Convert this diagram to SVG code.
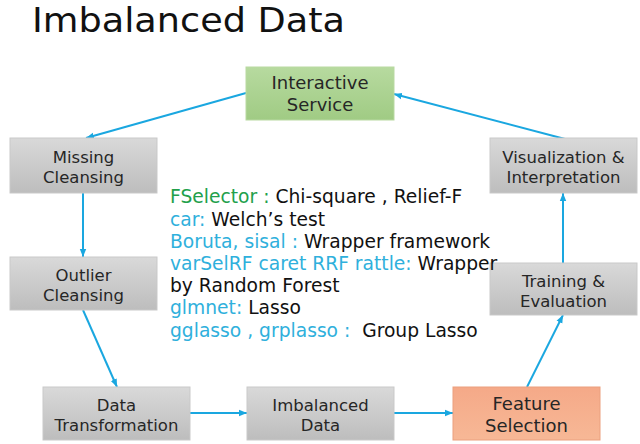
<svg xmlns="http://www.w3.org/2000/svg" width="640" height="444" viewBox="0 0 640 444">
<style>
text{font-family:"DejaVu Sans","Verdana",sans-serif;}
.title{font-size:34px;fill:#111;}
.nt{font-size:16.5px;fill:#262626;text-anchor:middle;}
.nb{font-size:18px;fill:#262626;text-anchor:middle;}
.gray{fill:url(#gGray);stroke:#c9c9c9;stroke-width:1;}
.green{fill:url(#gGreen);stroke:#b9d9a2;stroke-width:1;}
.orange{fill:url(#gOrange);stroke:#eba07e;stroke-width:1;}
.conn line{stroke:#1aa7e0;stroke-width:2;fill:none;marker-end:url(#ah);}
.lst{font-size:18.7px;fill:#111;white-space:pre;}
.c{fill:#2fb0dc;}
.g{fill:#22a04b;}
</style>
<defs>
<linearGradient id="gGray" x1="0" y1="0" x2="0" y2="1">
<stop offset="0" stop-color="#d9d9d9"/><stop offset="1" stop-color="#bdbdbd"/>
</linearGradient>
<linearGradient id="gGreen" x1="0" y1="0" x2="0" y2="1">
<stop offset="0" stop-color="#b7da9f"/><stop offset="1" stop-color="#a0cb84"/>
</linearGradient>
<linearGradient id="gOrange" x1="0" y1="0" x2="0" y2="1">
<stop offset="0" stop-color="#f5a988"/><stop offset="1" stop-color="#f7b896"/>
</linearGradient>
<marker id="ah" markerUnits="userSpaceOnUse" markerWidth="8" markerHeight="8" viewBox="0 0 8 8" refX="8" refY="4" orient="auto">
<path d="M0,0.8 L8,4 L0,7.2 Z" fill="#1aa7e0"/>
</marker>
</defs>

<text class="title" x="32" y="32" textLength="313" lengthAdjust="spacingAndGlyphs">Imbalanced Data</text>

<g class="conn">
<line x1="246" y1="93" x2="86" y2="138"/>
<line x1="83" y1="193" x2="83" y2="257"/>
<line x1="83" y1="310" x2="117" y2="387"/>
<line x1="190" y1="413" x2="247" y2="413"/>
<line x1="394" y1="413" x2="453" y2="413"/>
<line x1="527" y1="387" x2="563" y2="315"/>
<line x1="563" y1="263" x2="563" y2="193"/>
<line x1="565" y1="139" x2="394" y2="94"/>
</g>

<g id="interactive-service">
<rect class="green" x="246" y="67" width="148" height="53"/>
<text class="nb" x="320" y="89">Interactive</text>
<text class="nb" x="320" y="111">Service</text>
</g>
<g id="missing-cleansing">
<rect class="gray" x="10" y="138" width="147" height="55"/>
<text class="nt" x="83.5" y="163">Missing</text>
<text class="nt" x="83.5" y="183">Cleansing</text>
</g>
<g id="visualization">
<rect class="gray" x="490" y="138" width="147" height="55"/>
<text class="nt" x="563.5" y="163">Visualization &amp;</text>
<text class="nt" x="563.5" y="183">Interpretation</text>
</g>
<g id="outlier-cleansing">
<rect class="gray" x="10" y="257" width="147" height="53"/>
<text class="nt" x="83.5" y="281">Outlier</text>
<text class="nt" x="83.5" y="301">Cleansing</text>
</g>
<g id="training-evaluation">
<rect class="gray" x="490" y="263" width="147" height="52"/>
<text class="nt" x="563.5" y="287">Training &amp;</text>
<text class="nt" x="563.5" y="307">Evaluation</text>
</g>
<g id="data-transformation">
<rect class="gray" x="43" y="387" width="147" height="53"/>
<text class="nt" x="116.5" y="411">Data</text>
<text class="nt" x="116.5" y="431">Transformation</text>
</g>
<g id="imbalanced-data">
<rect class="gray" x="247" y="387" width="147" height="53"/>
<text class="nt" x="320.5" y="411">Imbalanced</text>
<text class="nt" x="320.5" y="431">Data</text>
</g>
<g id="feature-selection">
<rect class="orange" x="453" y="387" width="147" height="53"/>
<text class="nb" x="526.5" y="410">Feature</text>
<text class="nb" x="526.5" y="432">Selection</text>
</g>

<g id="package-list">
<text class="lst" x="170" y="203"><tspan class="g">FSelector : </tspan>Chi-square , Relief-F</text>
<text class="lst" x="170" y="225.5"><tspan class="c">car: </tspan>Welch’s test</text>
<text class="lst" x="170" y="248"><tspan class="c">Boruta, sisal : </tspan>Wrapper framework</text>
<text class="lst" x="170" y="270"><tspan class="c">varSelRF caret RRF rattle: </tspan>Wrapper</text>
<text class="lst" x="170" y="292">by Random Forest</text>
<text class="lst" x="170" y="314"><tspan class="c">glmnet: </tspan>Lasso</text>
<text class="lst" x="170" y="336.5"><tspan class="c">gglasso , grplasso :  </tspan>Group Lasso</text>
</g>
</svg>
